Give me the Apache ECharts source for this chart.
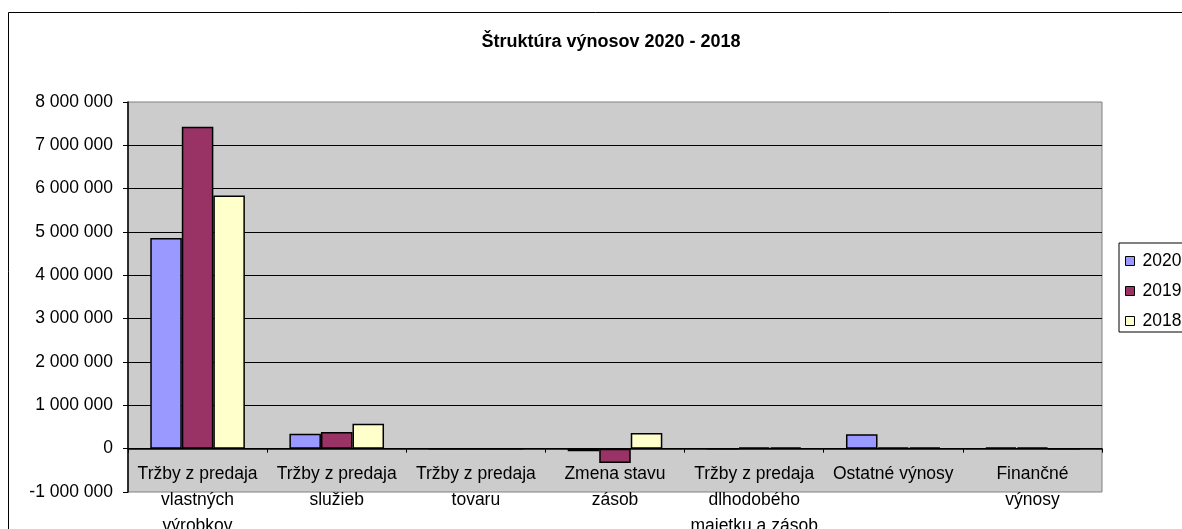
<!DOCTYPE html>
<html>
<head>
<meta charset="utf-8">
<script src="https://cdn.jsdelivr.net/npm/echarts@6/dist/echarts.min.js"></script>
<style>
  html, body { margin: 0; padding: 0; background: #fff; }
  #chart { width: 1182px; height: 529px; }
</style>
</head>
<body>
<div id="chart"></div>
<script>
// categories (line breaks as in the reference)
var categories = [
  'Tržby z predaja\nvlastných\nvýrobkov',
  'Tržby z predaja\nslužieb',
  'Tržby z predaja\ntovaru',
  'Zmena stavu\nzásob',
  'Tržby z predaja\ndlhodobého\nmajetku a zásob',
  'Ostatné výnosy',
  'Finančné\nvýnosy'
];
var years = ['2020', '2019', '2018'];
var values2020 = [4860000, 345000, 0, -60000, 0, 330000, 30000];
var values2019 = [7430000, 385000, 0, -330000, 30000, 30000, 30000];
var values2018 = [5840000, 575000, 0, 360000, 30000, 30000, 0];
var colors = ['#9999FF', '#993366', '#FFFFCC'];

var font = 'Arial, "Liberation Sans", sans-serif';

function fmt(v) {
  var s = Math.abs(v).toString().replace(/\B(?=(\d{3})+(?!\d))/g, ' ');
  return (v < 0 ? '-' : '') + s;
}

var chart = echarts.init(document.getElementById('chart'));

var seriesData = [values2020, values2019, values2018];
var series = [];
for (var i = 0; i < years.length; i++) {
  series.push({
    name: years[i],
    type: 'bar',
    data: seriesData[i],
    barGap: 0,
    barCategoryGap: '32%',
    itemStyle: { color: colors[i], borderColor: '#000', borderWidth: 1.5 }
  });
}

var option = {
  backgroundColor: '#fff',
  animation: false,
  title: {
    text: 'Štruktúra výnosov 2020 - 2018',
    left: 606,
    top: 28,
    textAlign: 'center',
    textStyle: { fontFamily: font, fontSize: 18, fontWeight: 'bold', color: '#000' }
  },
  legend: {
    data: years,
    orient: 'vertical',
    left: 1119,
    top: 243,
    padding: [9, 40, 2, 6],
    itemGap: 12,
    itemWidth: 9,
    itemHeight: 9,
    icon: 'rect',
    borderColor: '#000',
    borderWidth: 1,
    textStyle: { fontFamily: font, fontSize: 17.5, color: '#000', padding: [0, 0, 0, 3] },
    itemStyle: { borderColor: '#000', borderWidth: 1 }
  },
  grid: {
    left: 128,
    right: 80,
    top: 102,
    bottom: 37,
    containLabel: false,
    outerBoundsMode: 'none',
    show: true,
    backgroundColor: '#CCCCCC',
    borderColor: '#808080',
    borderWidth: 1
  },
  xAxis: {
    type: 'category',
    data: categories,
    axisLine: { onZero: true, lineStyle: { color: '#000', width: 1.5 } },
    axisTick: { show: true, length: 4, lineStyle: { color: '#000' } },
    axisLabel: {
      fontFamily: font, fontSize: 17.5, color: '#000',
      margin: -31, lineHeight: 26, interval: 0
    },
    splitLine: { show: false }
  },
  yAxis: {
    type: 'value',
    min: -1000000,
    max: 8000000,
    interval: 1000000,
    axisLine: { show: true, lineStyle: { color: '#000', width: 1.5 } },
    axisTick: { show: true, length: 5, lineStyle: { color: '#000' } },
    axisLabel: { fontFamily: font, fontSize: 17.5, color: '#000', margin: 15, formatter: fmt },
    splitLine: { show: true, showMinLine: false, showMaxLine: false, lineStyle: { color: '#000', width: 1 } }
  },
  graphic: [{
    type: 'rect',
    shape: { x: 8.5, y: 12.5, width: 1200, height: 600 },
    style: { fill: 'none', stroke: '#000', lineWidth: 1 },
    silent: true,
    z: 100
  }],
  series: series
};

chart.setOption(option);
</script>
</body>
</html>
